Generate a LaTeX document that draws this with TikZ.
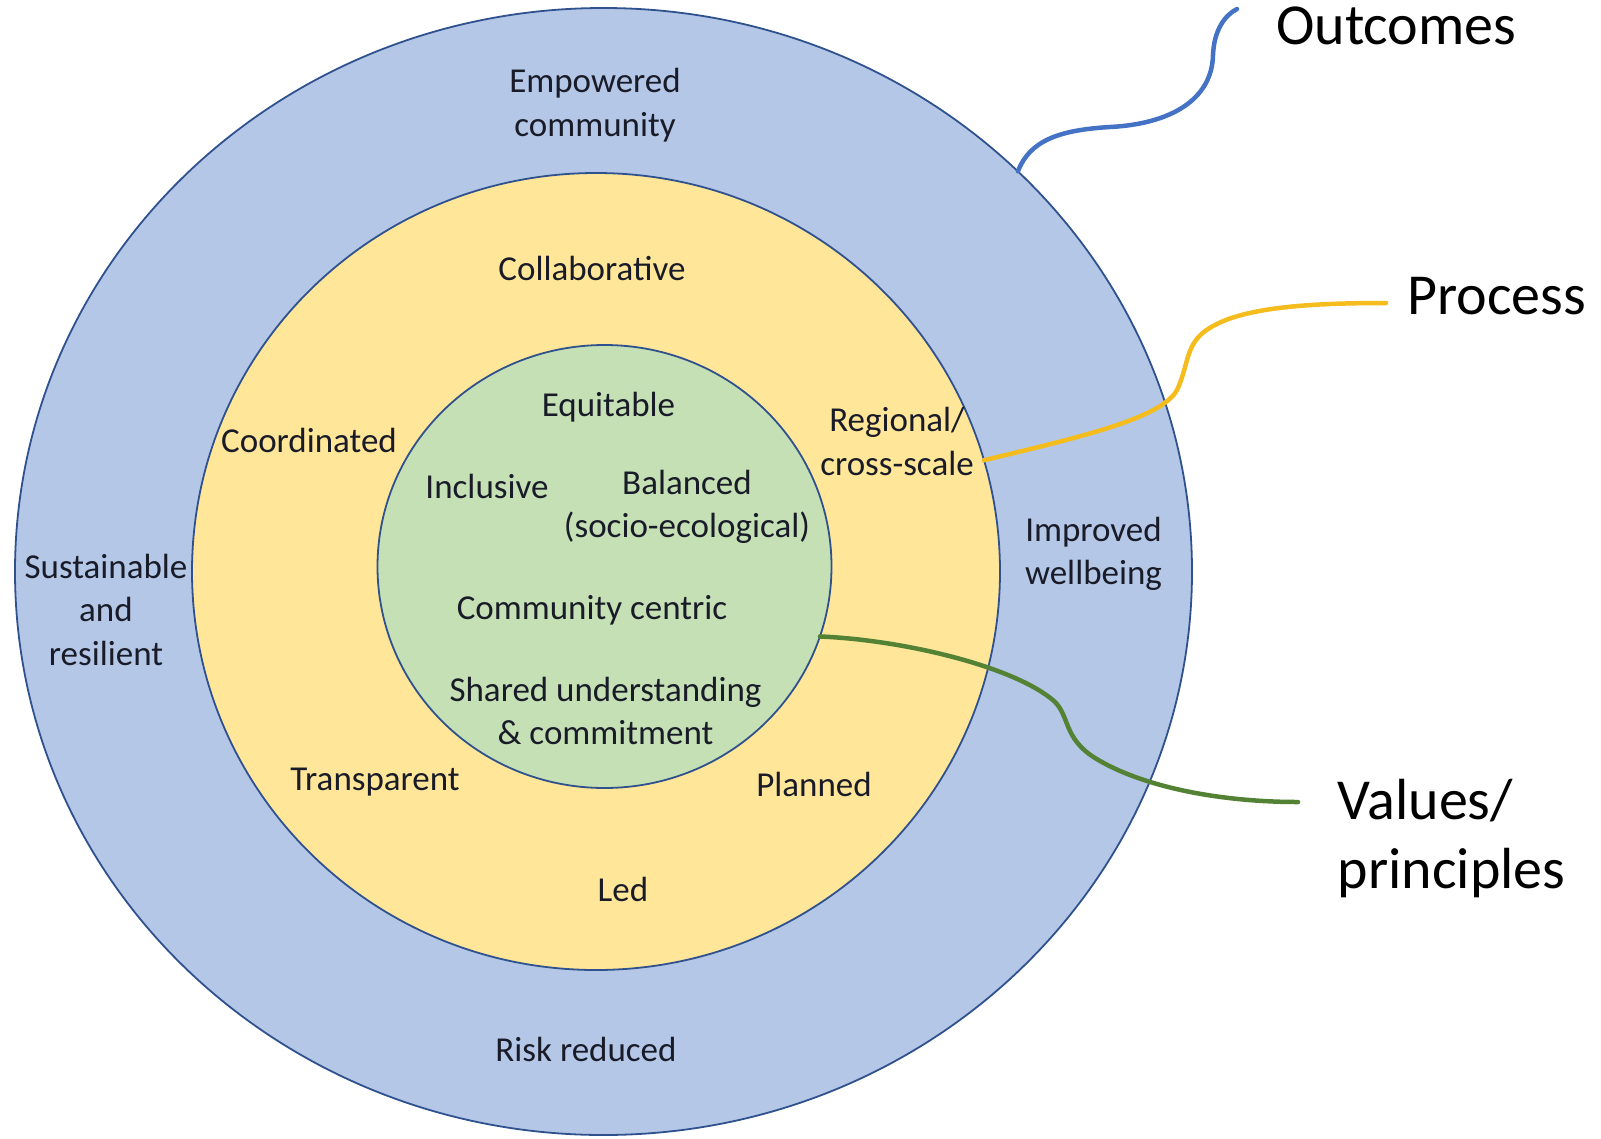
\documentclass[tikz,border=0pt]{standalone}
\usepackage{fontspec}
\setmainfont{Carlito}
\usetikzlibrary{shapes.geometric}
\definecolor{ringblue}{HTML}{B4C7E7}
\definecolor{ringyellow}{HTML}{FFE699}
\definecolor{ringgreen}{HTML}{C5E0B4}
\definecolor{rim}{HTML}{2F528F}
\definecolor{lnblue}{HTML}{4472C4}
\definecolor{lnorange}{RGB}{245,188,30}
\definecolor{lngreen}{HTML}{548235}
\definecolor{txt}{RGB}{25,28,40}
\newcommand\ringtextfont{\fontsize{35}{43.5}\selectfont}
\newcommand\keytextfont{\fontsize{58}{69}\selectfont}
\begin{document}
\begin{tikzpicture}[x=1pt,y=-1pt,
  ring/.style={ellipse, draw=rim, line width=1.8pt, inner sep=0pt, outer sep=0pt},
  lbl/.style={align=center, font=\ringtextfont, text=txt, inner sep=0pt},
  keylbl/.style={align=left, font=\keytextfont, text=black, inner sep=0pt},
  conn/.style={line width=4.5pt, line cap=round}
]
\path[use as bounding box] (0,0) rectangle (1601,1138);

% rings
\node[ring, fill=ringblue, minimum width=1177pt, minimum height=1127pt] (outer) at (603.5,571.5) {};
\node[ring, fill=ringyellow, minimum width=808pt, minimum height=797pt] (yellow) at (596,571.5) {};
\node[ring, fill=ringgreen, minimum width=454pt, minimum height=443pt] (green) at (604.5,566.5) {};

% outcome labels (blue ring)
\node[lbl] (empowered) at (595,106) {\strut Empowered\\\strut community};
\node[lbl] (sustain) at (106,613) {\strut Sustainable\\\strut and\\\strut resilient};
\node[lbl] (improved) at (1093.5,554.5) {\strut Improved\\\strut wellbeing};
\node[lbl] (risk) at (586,1052.5) {\strut Risk reduced};

% process labels (yellow ring)
\node[lbl] (collab) at (592,271.5) {\strut Collaborative};
\node[lbl] (coord) at (309,444) {\strut Coordinated};
\node[lbl] (regional) at (897,445) {\strut Regional/\\\strut cross-scale};
\node[lbl] (transp) at (375,782) {\strut Transparent};
\node[lbl] (planned) at (814,788) {\strut Planned};
\node[lbl] (led) at (623,893) {\strut Led};

% values labels (green core)
\node[lbl] (equit) at (608.5,408) {\strut Equitable};
\node[lbl] (inclusive) at (487,490) {\strut Inclusive};
\node[lbl] (balanced) at (687,507.5) {\strut Balanced\\\strut (socio-ecological)};
\node[lbl] (community) at (592,610.5) {\strut Community centric};
\node[lbl] (shared) at (605.5,714.5) {\strut Shared understanding\\\strut \& commitment};

% key labels
\node[keylbl, anchor=base west] (outcomes) at (1276,44) {Outcomes};
\node[keylbl, anchor=base west] (process) at (1407,314) {Process};
\node[keylbl, anchor=west] (values) at (1337.6,839.7) {\strut Values/\\\strut principles};

% connector ends
\coordinate (outEnd) at (1237,9);
\coordinate (procEnd) at (1386,303);
\coordinate (valEnd) at (1298,802);

% connectors
\draw[conn, lnblue] (outer.44) .. controls (1030,140) and (1060,130) .. (1110,127)
  .. controls (1170,124) and (1212,100) .. (1213,55)
  .. controls (1214,30) and (1225,15) .. (outEnd);
\draw[conn, lnorange] (yellow.16.5) .. controls (1080,437) and (1165,418) .. (1178,388)
  .. controls (1190,360) and (1185,340) .. (1215,325)
  .. controls (1250,306) and (1320,303) .. (procEnd);
\draw[conn, lngreen] (green.-18.5) .. controls (905,640) and (1015,667) .. (1054,701)
  .. controls (1070,716) and (1063,738) .. (1095,758)
  .. controls (1142,787) and (1220,802) .. (valEnd);
\end{tikzpicture}
\end{document}
